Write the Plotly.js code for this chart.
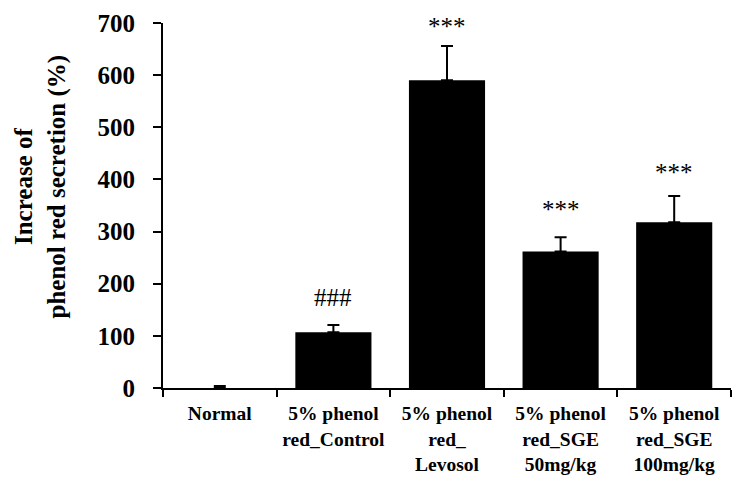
<!DOCTYPE html>
<html>
<head>
<meta charset="utf-8">
<script src="https://cdn.plot.ly/plotly-3.0.1.min.js"></script>
<style>html,body{margin:0;padding:0;background:#fff;}#chart{width:732px;height:477px;}</style>
</head>
<body>
<div id="chart"></div>
<script>
// Data
const categories = ["Normal", "5% phenol<br>red_Control", "5% phenol<br>red_<br>Levosol", "5% phenol<br>red_SGE<br>50mg/kg", "5% phenol<br>red_SGE<br>100mg/kg"];
const means = [0, 107, 590, 262, 318];
const errors = [4, 14, 66, 27, 50];
const sigMarks = ["", "###", "***", "***", "***"];
const yTicks = [0, 100, 200, 300, 400, 500, 600, 700];

const FONT = "Liberation Serif, Times New Roman, serif";
// styling: vertical pixel offset of each significance mark above its error bar
const markShift = [0, 27, 19, 28, 24];

const trace = {
  type: "bar",
  x: categories,
  y: means,
  marker: {color: "#000000", line: {width: 0}},
  error_y: {
    type: "data",
    symmetric: false,
    array: errors,
    arrayminus: errors.map(() => 0),
    color: "#000000",
    thickness: 2,
    width: 6
  },
  hoverinfo: "skip"
};

const annotations = [];
categories.forEach((c, i) => {
  if (!sigMarks[i]) return;
  annotations.push({
    x: c, y: means[i] + errors[i], xref: "x", yref: "y",
    text: sigMarks[i], showarrow: false,
    xanchor: "center", yanchor: "middle",
    yshift: markShift[i],
    font: {family: FONT, size: 25, color: "#000"}
  });
});
annotations.push({
  xref: "paper", yref: "paper", x: -0.216, y: 0.553,
  xanchor: "center", yanchor: "middle",
  text: "<b>Increase of<br>phenol red secretion (%)</b>",
  textangle: -90, showarrow: false,
  font: {family: FONT, size: 25, color: "#000"}
});

const layout = {
  width: 732, height: 477,
  margin: {l: 163, r: 1, t: 23, b: 89, pad: 0},
  paper_bgcolor: "#fff", plot_bgcolor: "#fff",
  showlegend: false,
  bargap: 0.33,
  font: {family: FONT, color: "#000"},
  xaxis: {
    type: "category",
    showline: true, linecolor: "#000", linewidth: 2,
    ticks: "outside", tickson: "boundaries", ticklen: 7, tickwidth: 2, tickcolor: "#000",
    showgrid: false, zeroline: false,
    ticklabelstandoff: 7,
    tickfont: {family: FONT, size: 19.5, color: "#000", weight: "bold"},
    tickangle: 0
  },
  yaxis: {
    range: [0, 700],
    tickvals: yTicks,
    ticktext: yTicks.map(String),
    showline: true, linecolor: "#000", linewidth: 2,
    ticks: "outside", ticklen: 8, tickwidth: 2, tickcolor: "#000",
    showgrid: false, zeroline: false,
    ticklabelstandoff: 13,
    tickfont: {family: FONT, size: 25, color: "#000", weight: "bold"}
  },
  annotations: annotations
};

Plotly.newPlot("chart", [trace], layout, {staticPlot: true, displayModeBar: false});
</script>
</body>
</html>
